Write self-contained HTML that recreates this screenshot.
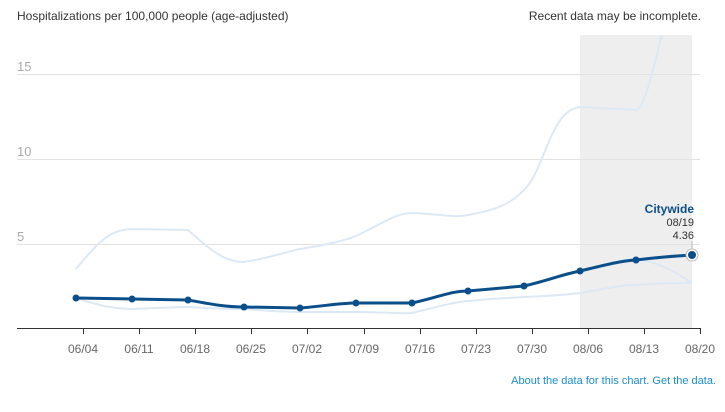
<!DOCTYPE html>
<html><head><style>
body{margin:0;background:#fff;font-family:"Liberation Sans",Arial,sans-serif;}
svg text{font-family:"Liberation Sans",Arial,sans-serif;}
</style></head><body>
<svg width="725" height="407" xmlns="http://www.w3.org/2000/svg">
<rect x="580" y="35" width="112" height="293" fill="#eeeeee"/>
<g stroke="#e2e2e2" stroke-width="1">
<line x1="17" y1="74.5" x2="700" y2="74.5"/>
<line x1="17" y1="159.5" x2="700" y2="159.5"/>
<line x1="17" y1="244.5" x2="700" y2="244.5"/>
</g>
<g fill="#aaa" font-size="13">
<text x="17" y="71">15</text>
<text x="17" y="156">10</text>
<text x="17" y="241">5</text>
</g>
<text x="17" y="20" font-size="12" fill="#333">Hospitalizations per 100,000 people (age-adjusted)</text>
<text x="701" y="20" font-size="12" fill="#333" text-anchor="end">Recent data may be incomplete.</text>
<line x1="17" y1="328.5" x2="701" y2="328.5" stroke="#333"/>
<g stroke="#333">
<line x1="83.5" y1="328" x2="83.5" y2="334"/><line x1="139.5" y1="328" x2="139.5" y2="334"/><line x1="195.5" y1="328" x2="195.5" y2="334"/><line x1="251.5" y1="328" x2="251.5" y2="334"/><line x1="307.5" y1="328" x2="307.5" y2="334"/><line x1="364.5" y1="328" x2="364.5" y2="334"/><line x1="420.5" y1="328" x2="420.5" y2="334"/><line x1="476.5" y1="328" x2="476.5" y2="334"/><line x1="532.5" y1="328" x2="532.5" y2="334"/><line x1="588.5" y1="328" x2="588.5" y2="334"/><line x1="644.5" y1="328" x2="644.5" y2="334"/><line x1="700.5" y1="328" x2="700.5" y2="334"/>
</g>
<g fill="#666" font-size="12" text-anchor="middle">
<text x="83" y="353">06/04</text><text x="139" y="353">06/11</text><text x="195" y="353">06/18</text><text x="251" y="353">06/25</text><text x="307" y="353">07/02</text><text x="364" y="353">07/09</text><text x="420" y="353">07/16</text><text x="476" y="353">07/23</text><text x="532" y="353">07/30</text><text x="588" y="353">08/06</text><text x="644" y="353">08/13</text><text x="700" y="353">08/20</text>
</g>
<g fill="none" stroke-width="2">
<path d="M76,269 C100,240 110,230 132,229 L188,230 C210,250 225,262 244,262 C270,258 285,252 300,249 C325,245 340,242 356,236 C380,225 395,213 412,213 C440,214 455,218 468,215 C495,210 510,205 524,190 C545,170 550,110 580,107 L636,110 C645,110 655,60 662,35" stroke="#dce9f5"/>
<path d="M76,298 C100,306 115,309 132,309 C160,308 175,307 188,307 C220,309 230,309 244,309 C270,311 285,312 300,312 L356,312 C390,312 400,314 412,313 C440,306 455,302 468,301 C495,298 510,298 524,297 C550,296 565,295 580,293 C610,288 620,285 636,285 C660,283 675,283 692,283" stroke="#dce9f5"/>
<path d="M580,272 C610,264 625,258 636,259 C660,262 680,275 692,283" stroke="#dce9f5"/>
</g>
<path d="M76,298 L132,299 L188,300 C210,304 225,307 244,307 L300,308 C325,306 340,303 356,303 L412,303 C440,297 450,291 468,291 L524,286 C550,280 560,275 580,271 C605,265 620,261 636,260 C660,257 675,256 692,255" fill="none" stroke="#0b4f8a" stroke-width="3"/>
<g fill="#0b4f8a">
<circle cx="76" cy="298" r="3.5"/><circle cx="132" cy="299" r="3.5"/><circle cx="188" cy="300" r="3.5"/><circle cx="244" cy="307" r="3.5"/><circle cx="300" cy="308" r="3.5"/><circle cx="356" cy="303" r="3.5"/><circle cx="412" cy="303" r="3.5"/><circle cx="468" cy="291" r="3.5"/><circle cx="524" cy="286" r="3.5"/><circle cx="580" cy="271" r="3.5"/><circle cx="636" cy="260" r="3.5"/>
</g>
<circle cx="692" cy="255" r="6" fill="#fff" stroke="#bbb"/>
<circle cx="692" cy="255" r="4" fill="#0b4f8a"/>
<line x1="692" y1="241" x2="692" y2="249" stroke="#bbb"/>
<text x="694" y="213" font-size="12" font-weight="bold" fill="#0b4f8a" text-anchor="end">Citywide</text>
<text x="694" y="226" font-size="11" fill="#333" text-anchor="end">08/19</text>
<text x="694" y="239" font-size="11" fill="#333" text-anchor="end">4.36</text>
<text x="716" y="384" font-size="11" fill="#1a8ccf" text-anchor="end">About the data for this chart. Get the data.</text>
</svg>
</body></html>
